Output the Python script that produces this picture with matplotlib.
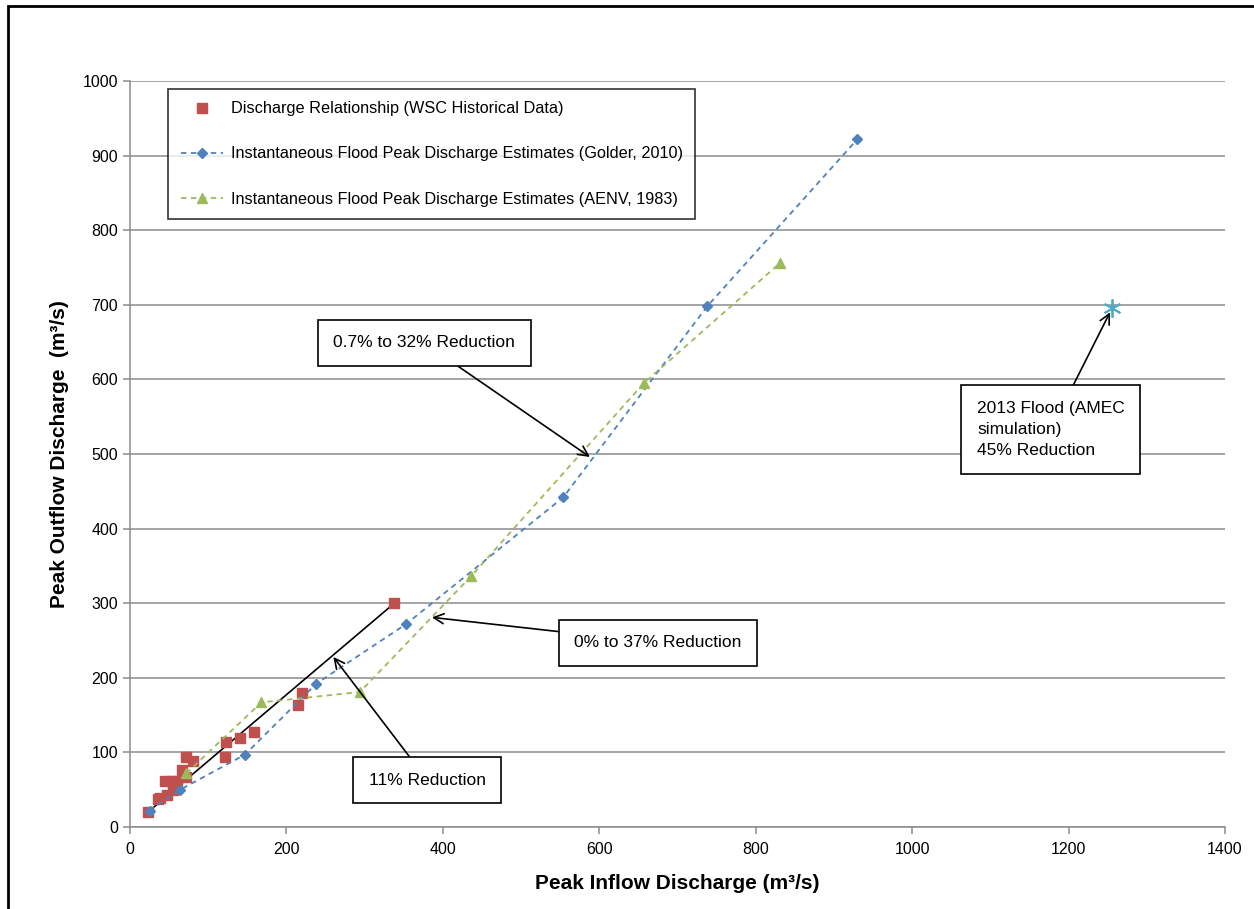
import numpy as np
import matplotlib
matplotlib.use("Agg")
import matplotlib.pyplot as plt
from matplotlib.patches import Rectangle

plt.rcParams['font.family'] = ['Liberation Sans', 'DejaVu Sans']

# WSC historical data
wsc_in = [23, 36, 38, 45, 47, 53, 55, 60, 66, 72, 72, 81, 122, 123, 141, 159, 215, 220, 338]
wsc_out = [20, 37, 39, 61, 43, 61, 50, 61, 76, 67, 94, 88, 94, 114, 119, 128, 164, 179, 300]

# Golder, 2010
golder_in = [25, 64, 147, 238, 353, 554, 738, 930]
golder_out = [22, 50, 97, 192, 272, 442, 698, 922]

# AENV, 1983
aenv_in = [72, 168, 294, 436, 657, 831]
aenv_out = [72, 167, 181, 336, 595, 756]

# 2013 flood
flood_in = [1256]
flood_out = [696]

# trend line through the WSC data
trend_in = [23, 338]
trend_out = [20, 300]

# text, arrow tip, text position (data units)
notes = [
    ("0.7% to 32% Reduction", (588, 496), (376, 649)),
    ("0% to 37% Reduction", (386, 281), (675, 247)),
    ("11% Reduction", (260, 228), (380, 63)),
    ("2013 Flood (AMEC\nsimulation)\n45% Reduction", (1253, 690), (1083, 533)),
]

fig = plt.figure(figsize=(12.54, 9.09), dpi=100)
ax = fig.add_axes([130/1254, 82/909, 1095/1254, 746/909])

ax.plot(trend_in, trend_out, color='black', lw=1.2, zorder=2)
ax.plot(wsc_in, wsc_out, ls='none', marker='s', ms=7.5, color='#c0504d',
        label='Discharge Relationship (WSC Historical Data)', zorder=3)
ax.plot(golder_in, golder_out, ls=(0, (3, 2.5)), lw=1.3, marker='D', ms=5, color='#4f81bd',
        label='Instantaneous Flood Peak Discharge Estimates (Golder, 2010)', zorder=3)
ax.plot(aenv_in, aenv_out, ls=(0, (3, 2.5)), lw=1.3, marker='^', ms=6.5, color='#9bbb59',
        label='Instantaneous Flood Peak Discharge Estimates (AENV, 1983)', zorder=3)
ax.plot(flood_in, flood_out, ls='none', marker=(6, 2, 0), ms=13, mew=1.3, color='#4bacc6',
        zorder=3, clip_on=False)

ax.set_xlim(0, 1400)
ax.set_ylim(0, 1000)
ax.set_xticks(np.arange(0, 1401, 200))
ax.set_yticks(np.arange(0, 1001, 100))
ax.grid(axis='y', color='#8c8c8c', lw=1.1)
ax.set_axisbelow(True)
for s in ['top', 'right']:
    ax.spines[s].set_visible(False)
for s in ['left', 'bottom']:
    ax.spines[s].set_color('#8c8c8c')
    ax.spines[s].set_linewidth(1.1)
ax.tick_params(colors='#8c8c8c', labelcolor='black', labelsize=11.5, length=5, width=1.1, direction='out')
ax.tick_params(axis='x', pad=6)

ax.set_xlabel('Peak Inflow Discharge (m³/s)', fontsize=15, fontweight='bold', labelpad=12)
ax.set_ylabel('Peak Outflow Discharge  (m³/s)', fontsize=15, fontweight='bold', labelpad=10)

for (txt, tip, pos) in notes:
    multi = '\n' in txt
    ax.annotate(txt, xy=tip, xytext=pos, fontsize=12.5, ha='left' if multi else 'center',
                va='center', linespacing=1.5,
                bbox=dict(boxstyle='square,pad=0.9', fc='white', ec='black', lw=1.2),
                arrowprops=dict(arrowstyle='->', color='black', lw=1.2, shrinkA=0, shrinkB=0,
                                mutation_scale=18),
                zorder=5)

leg = ax.legend(loc='upper left', bbox_to_anchor=(0.035, 0.989), borderaxespad=0,
                fontsize=11.7, frameon=True, fancybox=False, edgecolor='black',
                labelspacing=1.85, handlelength=2.6, handletextpad=0.5, borderpad=0.75)
leg.get_frame().set_linewidth(1.2)

fig.patches.append(Rectangle((8/1254, -0.1), 1.2, 0.1 + 903/909, transform=fig.transFigure,
                             fill=False, ec='black', lw=2))

fig.savefig('out.png', dpi=100)
